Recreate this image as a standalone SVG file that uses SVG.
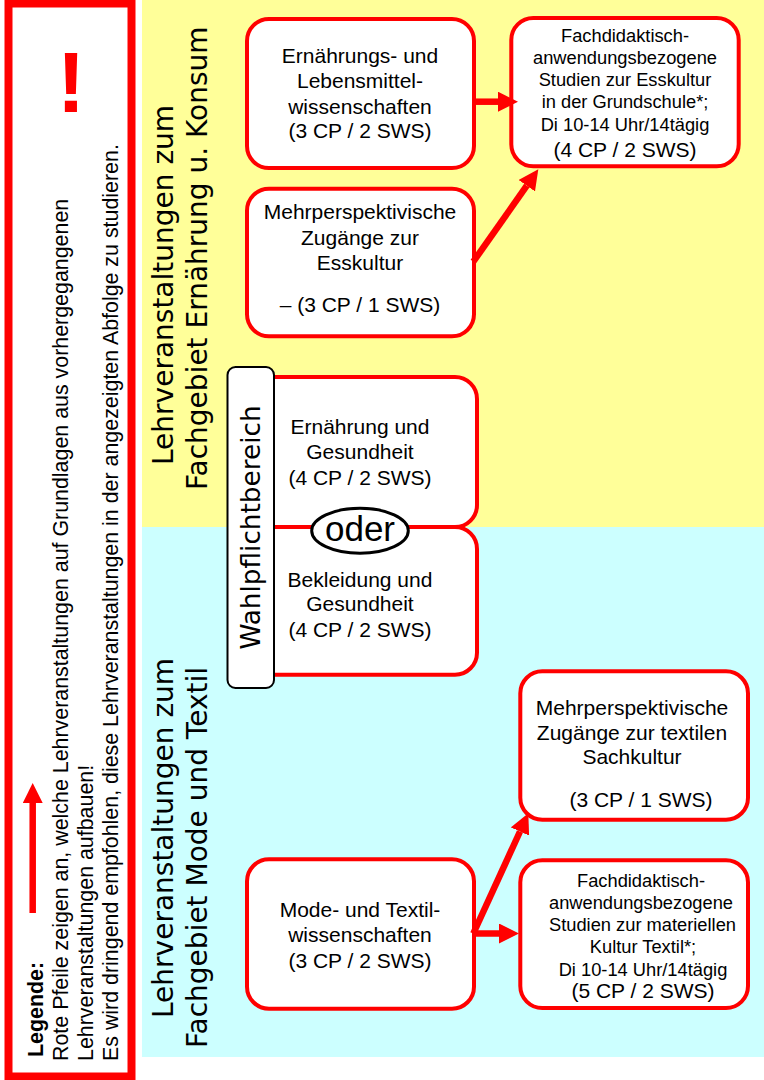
<svg xmlns="http://www.w3.org/2000/svg" width="764" height="1080" viewBox="0 0 764 1080">
<style>
.node{fill:#fff;stroke:#f00;stroke-width:4}
.t{font-family:"Liberation Sans",Arial,sans-serif;font-size:21px;fill:#000;text-anchor:middle}
.s{font-size:18.3px}
.title{font-family:"DejaVu Sans",Verdana,sans-serif;font-size:28px;fill:#000}
.leg{font-family:"Liberation Sans",Arial,sans-serif;font-size:21.4px;fill:#000}
.arr{stroke:#f00;stroke-width:6.5;fill:none;marker-end:url(#ah)}
</style>
<defs>
<marker id="ah" markerUnits="userSpaceOnUse" markerWidth="20" markerHeight="20" viewBox="0 0 20 20" refX="0" refY="10" orient="auto">
<path d="M0,0 L20,10 L0,20 z" fill="#f00"/>
</marker>
</defs>
<rect x="142" y="0" width="622" height="527" fill="#FFFF99"/>
<rect x="142" y="527" width="622" height="530" fill="#CCFFFF"/>

<g id="legend">
<rect x="8.5" y="3.5" width="123" height="1073" fill="#fff" stroke="#f00" stroke-width="8"/>
<text x="71" y="111.5" font-family="Liberation Sans,Arial,sans-serif" font-weight="bold" font-size="86" fill="#f00" text-anchor="middle">!</text>
<line class="arr" x1="32.7" y1="913" x2="32.7" y2="803"/>
<text class="leg" transform="translate(42.7,1057) rotate(-90)" font-weight="bold" font-size="23">Legende:</text>
<text class="leg" transform="translate(68.3,1061) rotate(-90)">Rote Pfeile zeigen an, welche Lehrveranstaltungen auf Grundlagen aus vorhergegangenen</text>
<text class="leg" transform="translate(93.3,1061) rotate(-90)">Lehrveranstaltungen aufbauen!</text>
<text class="leg" transform="translate(118.3,1061) rotate(-90)">Es wird dringend empfohlen, diese Lehrveranstaltungen in der angezeigten Abfolge zu studieren.</text>
</g>

<g id="title-ernaehrung">
<text class="title" transform="translate(172.5,465) rotate(-90)">Lehrveranstaltungen zum</text>
<text class="title" transform="translate(206.5,490) rotate(-90)" font-size="27.2">Fachgebiet Ernährung u. Konsum</text>
</g>
<g id="title-textil">
<text class="title" transform="translate(172.5,1018) rotate(-90)">Lehrveranstaltungen zum</text>
<text class="title" transform="translate(207,1048) rotate(-90)" font-size="30">Fachgebiet Mode und Textil</text>
</g>

<g id="node-ernaehrungswiss">
<rect class="node" x="247" y="19" width="227" height="149" rx="22"/>
<text class="t" x="360" y="63.3">Ernährungs- und</text>
<text class="t" x="360" y="88.3">Lebensmittel-</text>
<text class="t" x="360" y="113.5">wissenschaften</text>
<text class="t" x="360" y="138.3">(3 CP / 2 SWS)</text>
</g>

<g id="node-mehrpersp-ess">
<rect class="node" x="247" y="188.7" width="227" height="147.6" rx="22"/>
<text class="t" x="360" y="219.3">Mehrperspektivische</text>
<text class="t" x="360" y="245">Zugänge zur</text>
<text class="t" x="360" y="270">Esskultur</text>
<text class="t" x="360" y="311.7">– (3 CP / 1 SWS)</text>
</g>

<g id="node-fachdid-ess">
<rect class="node" x="511.3" y="18" width="227.4" height="148.3" rx="22"/>
<text class="t s" x="625" y="41.7">Fachdidaktisch-</text>
<text class="t s" x="625" y="63.8">anwendungsbezogene</text>
<text class="t s" x="625" y="86">Studien zur Esskultur</text>
<text class="t s" x="625" y="108.3">in der Grundschule*;</text>
<text class="t s" x="625" y="131">Di 10-14 Uhr/14tägig</text>
<text class="t" x="625" y="156.7">(4 CP / 2 SWS)</text>
</g>

<g id="node-ernaehrung-gesundheit">
<rect class="node" x="247" y="377" width="230" height="150" rx="22"/>
<text class="t" x="360" y="434">Ernährung und</text>
<text class="t" x="360" y="459.3">Gesundheit</text>
<text class="t" x="360" y="485">(4 CP / 2 SWS)</text>
</g>

<g id="node-bekleidung-gesundheit">
<rect class="node" x="247" y="527" width="230" height="147.7" rx="22"/>
<text class="t" x="360" y="586.7">Bekleidung und</text>
<text class="t" x="360" y="611">Gesundheit</text>
<text class="t" x="360" y="636.7">(4 CP / 2 SWS)</text>
</g>

<g id="wahlpflichtbereich">
<rect x="227.5" y="367" width="46.5" height="321" rx="8" fill="#fff" stroke="#000" stroke-width="2"/>
<text transform="translate(260,527.5) rotate(-90)" font-family="DejaVu Sans,Verdana,sans-serif" font-size="26.3" text-anchor="middle" fill="#000">Wahlpflichtbereich</text>
</g>

<g id="oder">
<ellipse cx="360" cy="530.8" rx="48.3" ry="22.5" fill="#fff" stroke="#000" stroke-width="3"/>
<text x="360" y="541" font-family="Liberation Sans,Arial,sans-serif" font-size="35" text-anchor="middle" fill="#000">oder</text>
</g>

<g id="node-mode-textil">
<rect class="node" x="247" y="859.3" width="227" height="149.4" rx="22"/>
<text class="t" x="360" y="916.7">Mode- und Textil-</text>
<text class="t" x="360" y="941.7">wissenschaften</text>
<text class="t" x="360" y="968.3">(3 CP / 2 SWS)</text>
</g>

<g id="node-mehrpersp-textil">
<rect class="node" x="520.3" y="671.3" width="227.7" height="148.4" rx="22"/>
<text class="t" x="632" y="715">Mehrperspektivische</text>
<text class="t" x="632" y="740">Zugänge zur textilen</text>
<text class="t" x="632" y="764">Sachkultur</text>
<text class="t" x="641" y="806.7">(3 CP / 1 SWS)</text>
</g>

<g id="node-fachdid-textil">
<rect class="node" x="520.3" y="860.3" width="227.7" height="147.7" rx="22"/>
<text class="t s" x="641" y="886.7">Fachdidaktisch-</text>
<text class="t s" x="641" y="908.5">anwendungsbezogene</text>
<text class="t s" x="642.5" y="930.7">Studien zur materiellen</text>
<text class="t s" x="643" y="953.3">Kultur Textil*;</text>
<text class="t s" x="643" y="976">Di 10-14 Uhr/14tägig</text>
<text class="t" x="643" y="998.3">(5 CP / 2 SWS)</text>
</g>

<g id="connectors">
<line class="arr" x1="474" y1="101.7" x2="498" y2="101.7"/>
<line class="arr" x1="473.3" y1="261.7" x2="526.8" y2="185.7"/>
<line class="arr" x1="473.3" y1="933.5" x2="520" y2="831.5"/>
<line class="arr" x1="473.3" y1="933.5" x2="499" y2="933.5"/>
</g>
</svg>
